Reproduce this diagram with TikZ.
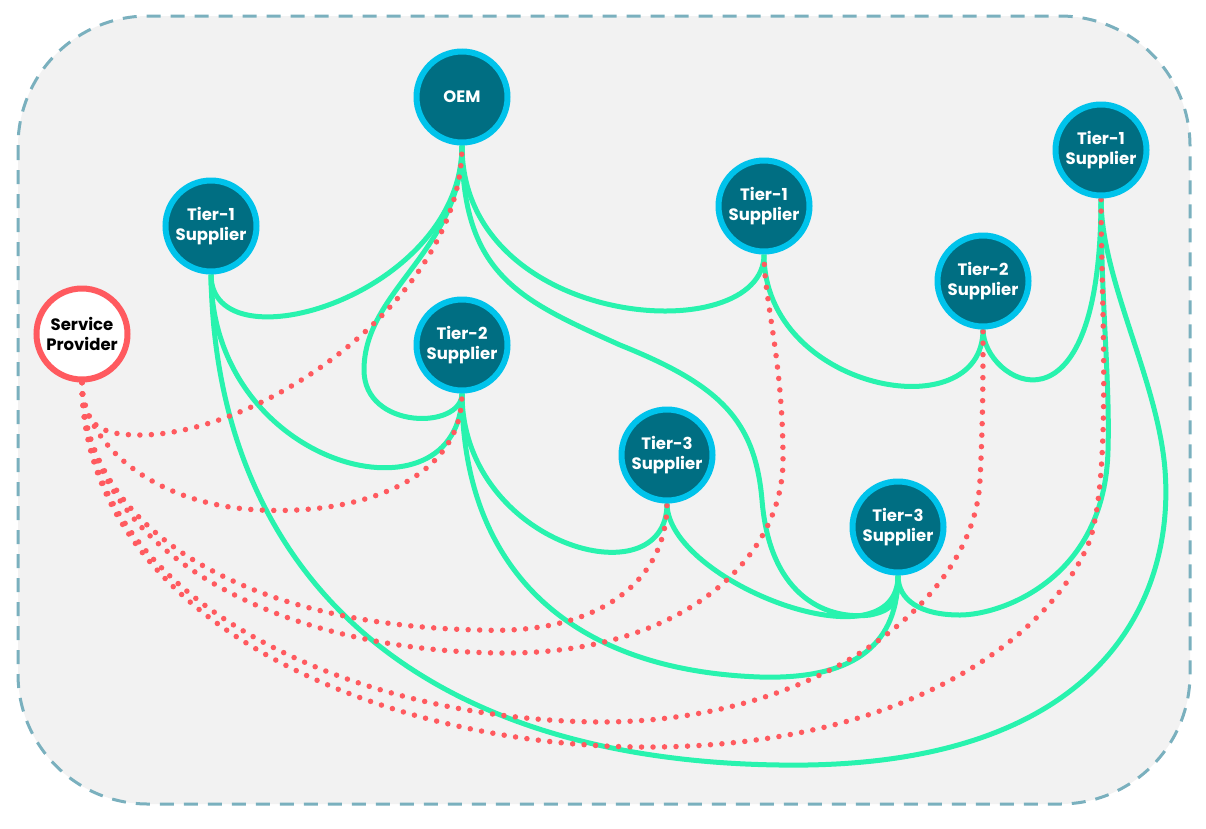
\documentclass[tikz,border=0pt]{standalone}
\usepackage{fontspec}
\setmainfont{Poppins}
\definecolor{ringblue}{HTML}{00C3EB}
\definecolor{nodeteal}{HTML}{006E82}
\definecolor{spred}{HTML}{FF5A5F}
\definecolor{lgreen}{HTML}{28F3AE}
\definecolor{dotred}{HTML}{FF5A5F}
\definecolor{boxline}{HTML}{7AB0BE}
\definecolor{boxfill}{HTML}{F2F2F2}
\pgfdeclarelayer{back}
\pgfdeclarelayer{edges}
\pgfsetlayers{back,edges,main}
\begin{document}
\begin{tikzpicture}[x=1pt,y=-1pt,
  tier/.style={circle, draw=ringblue, fill=nodeteal, line width=6pt, minimum size=91pt,
    inner sep=0pt, text=white, font=\bfseries\fontsize{16.5}{19.5}\selectfont, align=center},
  svc/.style={tier, draw=spred, fill=white, text=black},
  gline/.style={draw=lgreen, line width=5pt},
  rdot/.style={draw=dotred, line width=5.5pt, line cap=round, dash pattern=on 0pt off 11.5pt},
  frame/.style={draw=boxline, fill=boxfill, line width=3pt, dash pattern=on 14pt off 10pt, rounded corners=130pt}]
\useasboundingbox (0,0) rectangle (1206,828);

\node[tier] (oem) at (462,97) {OEM};
\node[tier] (t1l) at (211,226) {Tier-1\\Supplier};
\node[svc]  (sp)  at (82,334) {Service\\Provider};
\node[tier] (t2m) at (462,345) {Tier-2\\Supplier};
\node[tier] (t1m) at (764,206) {Tier-1\\Supplier};
\node[tier] (t2r) at (983,281) {Tier-2\\Supplier};
\node[tier] (t1r) at (1101,150) {Tier-1\\Supplier};
\node[tier] (t3m) at (667,455) {Tier-3\\Supplier};
\node[tier] (t3r) at (898,527) {Tier-3\\Supplier};

\begin{pgfonlayer}{back}
\path[frame] (18,16) rectangle (1190,804);
\end{pgfonlayer}

\begin{pgfonlayer}{edges}
% green connectors
\draw[gline] (oem.south) .. controls +(0,150) and +(0,95) .. (t1l.south);
\draw[gline] (oem.south) .. controls +(0,105) and (364,290) .. (364,370)
  .. controls (364,430) and (462,430) .. (t2m.south);
\draw[gline] (oem.south) .. controls +(0,185) and +(0,96) .. (t1m.south);
\draw[gline] (oem.south) .. controls +(0,130) and (520,300) .. (620,345)
  .. controls (720,385) and (755,420) .. (762,500)
  .. controls (770,600) and (830,620) .. (870,615)
  .. controls (895,610) and (898,600) .. (t3r.south);
\draw[gline] (t1l.south) .. controls +(0,196) and +(0,137) .. (t2m.south);
\draw[gline] (t1l.south) .. controls (215,560) and (400,760) .. (780,765)
  .. controls (1100,770) and (1175,600) .. (1165,470)
  .. controls (1158,380) and (1101,280) .. (t1r.south);
\draw[gline] (t2m.south) .. controls +(0,152) and +(0,98) .. (t3m.south);
\draw[gline] (t2m.south) .. controls (462,560) and (560,670) .. (760,677)
  .. controls (860,680) and (898,640) .. (t3r.south);
\draw[gline] (t1m.south) .. controls +(0,136) and +(0,102) .. (t2r.south);
\draw[gline] (t2r.south) .. controls +(0,52) and +(0,254) .. (t1r.south);
\draw[gline] (t3m.south) .. controls +(0,78) and +(0,95) .. (t3r.south);
\draw[gline] (t1r.south) .. controls +(0,104) and (1110,380) .. (1108,450)
  .. controls (1105,580) and (1000,615) .. (960,615)
  .. controls (920,615) and (898,600) .. (t3r.south);
% red dotted connectors
\draw[rdot] (sp.south) .. controls +(0,43) and (100,435) .. (140,435)
  .. controls (260,435) and (462,300) .. (oem.south);
\draw[rdot] (sp.south) .. controls +(0,58) and (150,505) .. (260,510)
  .. controls (360,515) and (462,480) .. (t2m.south);
\draw[rdot] (sp.south) .. controls +(0,138) and (230,625) .. (480,630)
  .. controls (600,635) and (667,580) .. (t3m.south);
\draw[rdot] (sp.south) .. controls +(0,158) and (260,650) .. (500,653)
  .. controls (680,655) and (783,560) .. (783,460)
  .. controls (783,360) and (764,300) .. (t1m.south);
\draw[rdot] (sp.south) .. controls +(0,218) and (350,720) .. (600,722)
  .. controls (820,722) and (975,600) .. (980,480)
  .. controls (983,420) and (983,380) .. (t2r.south);
\draw[rdot] (sp.south) .. controls +(0,238) and (380,745) .. (640,747)
  .. controls (900,749) and (1050,640) .. (1090,540)
  .. controls (1112,470) and (1101,300) .. (t1r.south);
\end{pgfonlayer}
\end{tikzpicture}
\end{document}
